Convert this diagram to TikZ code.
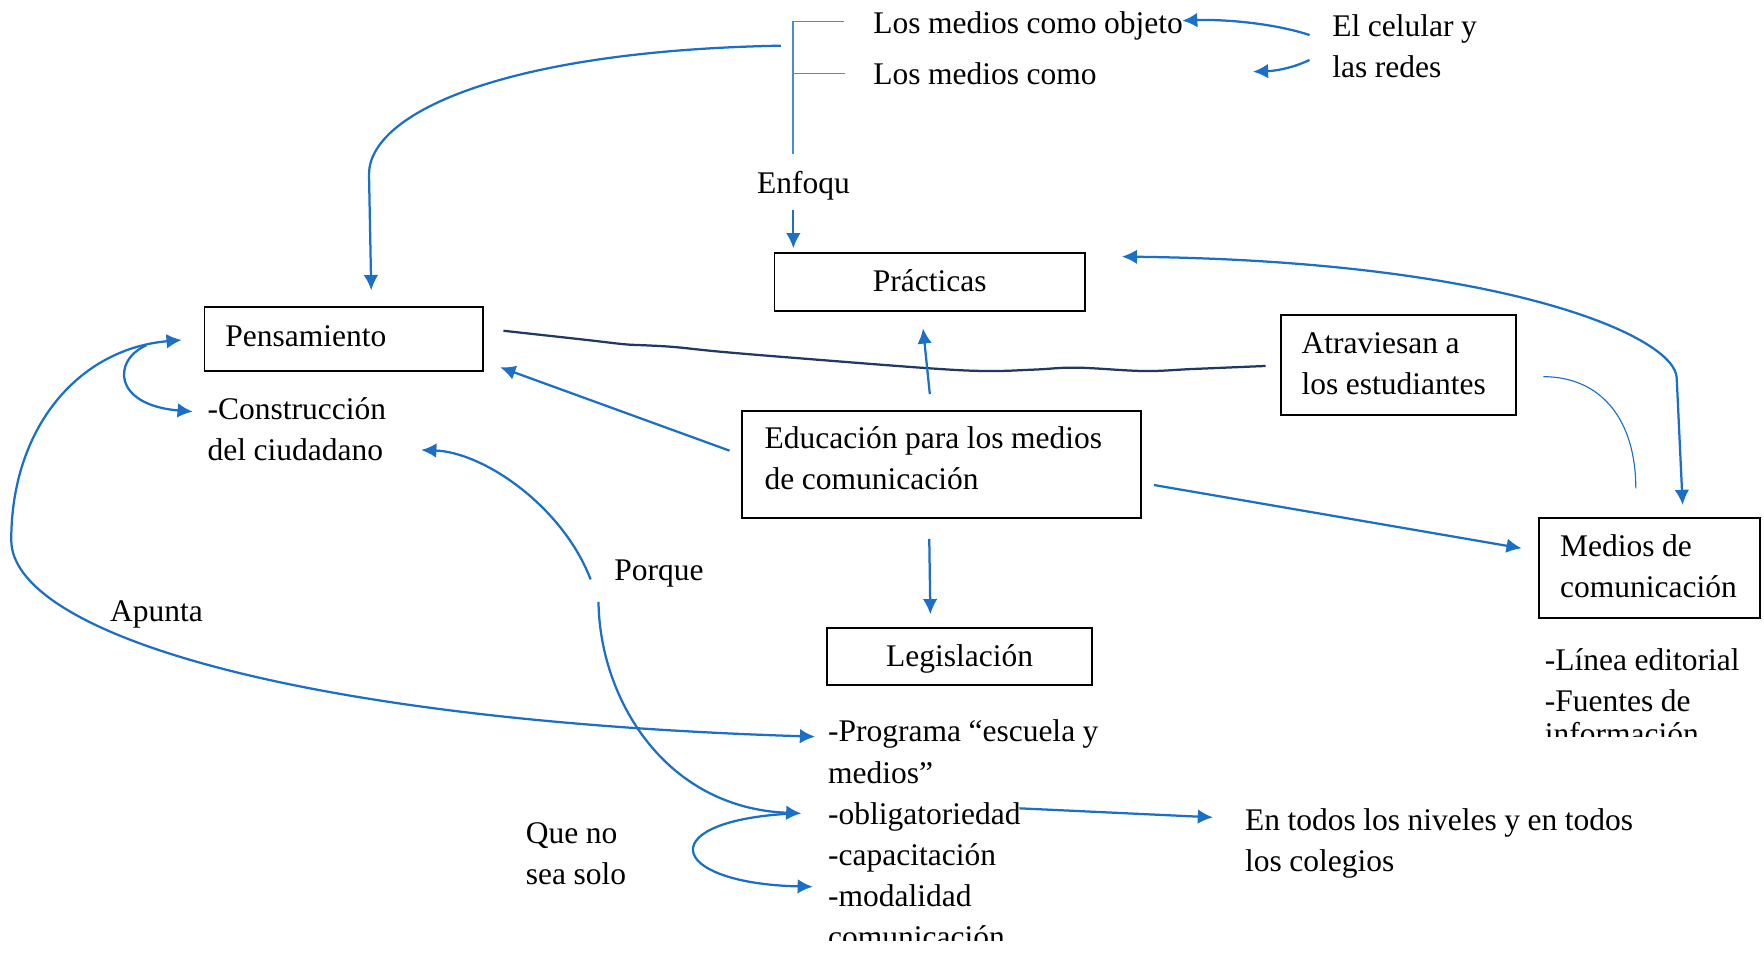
\documentclass[tikz,border=0pt]{standalone}
\usepackage{fontspec}
\setmainfont{Liberation Serif}[WordSpace=0.95]
\usetikzlibrary{arrows.meta,calc}
\definecolor{mblue}{HTML}{1A6FC6}
\definecolor{lblue}{HTML}{4A8BD6}
\definecolor{navyc}{HTML}{1F3864}
\hyphenpenalty=10000
\exhyphenpenalty=10000
\begin{document}
\begin{tikzpicture}[x=1pt,y=-1pt,
  every node/.style={font=\fontsize{28}{36.5}\selectfont, inner sep=0pt, outer sep=0pt},
  txt/.style={anchor=base west, align=flush left},
  cbox/.style={draw, line width=1.6pt, anchor=base west, inner ysep=0pt},
  conn/.style={draw=mblue, line width=2pt, -{Latex[length=13.5pt,width=13pt]}},
  dconn/.style={draw=mblue, line width=2pt, {Latex[length=13.5pt,width=13pt]}-{Latex[length=13.5pt,width=13pt]}},
  brline/.style={draw=lblue, line width=1.3pt},
]
\useasboundingbox (0,0) rectangle (1568,847);

% boxes
\node[cbox, align=flush center, inner xsep=10pt, text width=256.2pt, text height=34.1pt, text depth=17.1pt] (prac) at (688.4,259.3) {Prácticas};
\node[cbox, align=flush left, inner xsep=18.6pt, text width=210.6pt, text height=35pt, text depth=21.9pt] (pens) at (181.8,307.6) {Pensamiento};
\node[cbox, align=flush left, inner xsep=18.6pt, text width=171.7pt, text height=34pt, text depth=54.9pt] (atr) at (1138.4,314) {Atraviesan a\\los estudiantes};
\node[cbox, align=flush left, inner xsep=19.9pt, text width=314.6pt, text height=33.5pt, text depth=62.2pt] (edu) at (659.8,398.5) {Educación para los medios\\de comunicación};
\node[cbox, align=flush left, inner xsep=19pt, text width=158.7pt, text height=34.1pt, text depth=54.2pt] (med) at (1367.7,494.8) {Medios de\\comunicación};
\node[cbox, align=flush center, inner xsep=10pt, text width=216pt, text height=34pt, text depth=17pt] (leg) at (735,592) {Legislación};

% free texts
\node[txt] (objeto) at (776.3,29.6) {Los medios como objeto};
\node[txt] (como) at (776.3,74.7) {Los medios como};
\node[txt, text width=200pt] (celular) at (1184.3,32.6) {El celular y\\las redes};
\node[txt] (enfoqu) at (672.9,172) {Enfoqu};
\node[txt, text width=200pt] (constr) at (184.6,372.7) {-Construcción\\del ciudadano};
\node[txt] (porque) at (546,516) {Porque};
\node[txt] (apunta) at (97.8,552.6) {Apunta};
\begin{scope}
\clip (1360,560) rectangle (1568,654.8);
\node[txt, text width=200pt] (linea) at (1373.3,595.6) {-Línea editorial\\-Fuentes de\\[-7pt]información};
\end{scope}
\node[txt] (prog1) at (736.1,659.3) {-Programa “escuela y};
\node[txt] (prog2) at (736.1,696.3) {medios”};
\node[txt] (oblig) at (736.1,733.3) {-obligatoriedad};
\node[txt] (capac) at (736.1,768.9) {-capacitación};
\node[txt] (modal) at (736.1,805.9) {-modalidad};
\begin{scope}
\clip (720,815) rectangle (1000,835.6);
\node[txt] (comun) at (736.1,842.3) {comunicación};
\end{scope}
\node[txt, text width=200pt] (queno) at (467.5,749.6) {Que no\\sea solo};
\node[txt, text width=420pt] (entodos) at (1106.8,737.8) {En todos los niveles y en todos\\los colegios};

% bracket
\coordinate (brt) at (705,18.4);
\coordinate (brb) at (705,137);
\coordinate (brm) at (694,40.6);
\draw[brline] (brt) -- (brb);
\draw[brline] (705,19.3) -- ($(objeto.base west)+(-26.3,-10.3)$);
\draw[brline] (705,65.2) -- ($(como.base west)+(-25.3,-9.5)$);

% connectors
\draw[conn] (brm) .. controls (450,45) and (328,100) .. (328,155) -- ($(pens.north)+(24.3,-14.6)$);
\draw[conn] ($(enfoqu.base west)+(32.3,14.7)$) -- ($(prac.north west)+(16.8,-4.5)$);
\draw[conn] ($(celular.base west)+(-20.3,-1.5)$) .. controls (1130,20) and (1085,17) .. ($(objeto.base west)+(274.5,-11.2)$);
\draw[conn] ($(celular.base west)+(-20.3,20.7)$) .. controls (1150,60) and (1135,63) .. ($(celular.base west)+(-70.6,31.1)$);

\coordinate (na) at ($(pens.north east)+(17.9,21.4)$);
\coordinate (nb) at ($(atr.west)+(-13.4,0.85)$);
\draw[navyc, line width=2pt] plot[smooth, tension=0.6] coordinates {(na) (520,302) (555,306) (575,307) (600,308.5) (640,312.6) (711,318.5) (826.5,327.4) (878,329.8) (920,328.5) (957.4,326.8) (1017,329.8) (1060,328) (nb)};

\draw[conn] ($(edu.west)+(-11.3,-12.25)$) -- ($(pens.south east)+(15.1,-3)$);
\draw[conn] ($(edu.north)+(-10.5,-14.8)$) -- ($(prac.south)+(-6,15.5)$);
\draw[conn] ($(edu.south)+(-11,18.3)$) -- ($(leg.north)+(-26,-12)$);
\draw[conn] ($(edu.east)+(11.5,18.25)$) -- ($(med.west)+(-15.1,-17.45)$);
\draw[dconn] ($(med.north)+(29.65,-11.8)$) -- (1490.4,336.3) .. controls (1490.4,300) and (1340,232) .. ($(prac.north east)+(32.6,2.9)$);
\draw[mblue, line width=1pt] ($(atr.east)+(24.5,10.35)$) .. controls (1425,335) and (1454,375) .. ($(med.north)+(-12,-26.7)$);

\draw[dconn] ($(prog1.base west)+(-11.6,-4.5)$) .. controls (250,640) and (10,560) .. (10,480) .. controls (10,380) and (70,310) .. ($(pens.west)+(-20.3,1.15)$);
\draw[conn] (130,307) .. controls (100,320) and (100,360) .. ($(constr.base west)+(-13.3,-6.8)$);

\draw[conn] (525,515) .. controls (500,450) and (430,402) .. ($(constr.base west)+(189.8,27.3)$);
\draw[conn] (532,535) .. controls (533,620) and (590,718) .. ($(oblig.base west)+(-23.8,-10.3)$);
\draw[conn] ($(oblig.base west)+(-28.1,-10.3)$) .. controls (580,728) and (590,785) .. ($(modal.base west)+(-13.6,-17.7)$);
\draw[conn] ($(oblig.base west)+(170,-14.8)$) -- ($(entodos.base west)+(-28.6,-11.3)$);
\end{tikzpicture}
\end{document}
